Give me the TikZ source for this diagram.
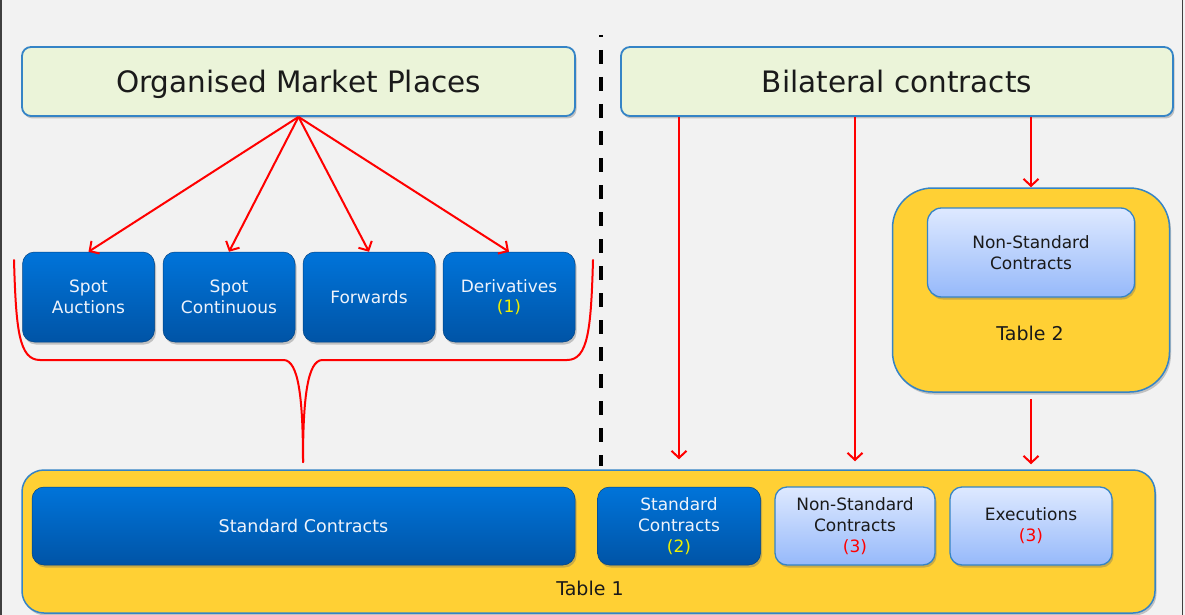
\documentclass[tikz,border=0pt]{standalone}
\usepackage{fontspec}
\setmainfont{DejaVu Sans}
\usetikzlibrary{arrows.meta,shadows,calc}
\definecolor{bgc}{HTML}{F2F2F2}
\definecolor{hdrfill}{HTML}{EBF4D9}
\definecolor{edgeblue}{HTML}{3584C6}
\definecolor{dbtop}{HTML}{0074DA}
\definecolor{dbbot}{HTML}{0054A6}
\definecolor{lbtop}{HTML}{DEE9FF}
\definecolor{lbbot}{HTML}{96B9FA}
\definecolor{tabyel}{HTML}{FFD034}
\definecolor{arrred}{HTML}{FF0000}
\definecolor{ylw}{HTML}{F0F000}
\definecolor{txtw}{HTML}{EEF3FB}
\definecolor{txtd}{HTML}{1A1A1A}
\tikzset{
  myshadow/.style={drop shadow={shadow xshift=1.5pt,shadow yshift=-2.5pt,opacity=0.35,fill=black!60}},
  hdr/.style={draw=edgeblue,line width=1.8pt,fill=hdrfill,rounded corners=9pt,myshadow,
    minimum width=553pt,minimum height=69pt,inner sep=0pt,text height=21.5pt,text depth=0pt,
    font=\fontsize{29.5}{34}\selectfont,text=txtd},
  dbox/.style={rounded corners=12pt,top color=dbtop,bottom color=dbbot,draw=dbbot!80!black,line width=0.5pt,myshadow,
    minimum width=132pt,minimum height=90pt,inner sep=0pt,align=center,text=txtw,
    font=\fontsize{17}{20.5}\selectfont},
  lbox/.style={rounded corners=12pt,top color=lbtop,bottom color=lbbot,draw=edgeblue,line width=1.3pt,myshadow,
    minimum height=78pt,inner sep=0pt,align=center,text=txtd,
    font=\fontsize{17}{21}\selectfont},
  tab/.style={fill=tabyel,draw=edgeblue,line width=1.5pt,myshadow,inner sep=0pt},
  lbl/.style={font=\fontsize{19}{22}\selectfont,text=txtd,inner sep=0pt},
  arr/.style={draw=arrred,color=arrred,line width=2pt,-{Straight Barb[length=7pt,width=15pt,line width=2pt]}},
  bracepath/.style={draw=arrred,line width=2pt,line cap=round,line join=round},
}
\begin{document}
\begin{tikzpicture}[x=1pt,y=-1pt]
\useasboundingbox (0,0) rectangle (1185,615);
\fill[bgc] (0,0) rectangle (1185,615);
\draw[black!75,line width=1.5pt] (0.75,0) -- (0.75,615);
\draw[black!75,line width=1.5pt] (1182.5,0) -- (1182.5,615);

% dashed separator
\draw[black,line width=4pt,dash pattern=on 14pt off 13pt,dash phase=12pt] (601,35) -- (601,466);

% headers
\node[hdr] (omp) at (298.5,81.5) {Organised Market Places};
\node[hdr,minimum width=552pt] (bc) at (897,81.5) {Bilateral contracts};

% organised market boxes
\node[dbox] (sa) at (88.5,297) {Spot\\Auctions};
\node[dbox] (sc) at (229,297) {Spot\\Continuous};
\node[dbox] (fw) at (369,297) {Forwards};
\node[dbox] (dv) at (509,297) {Derivatives\\\textcolor{ylw}{(1)}};

\foreach \t in {sa,sc,fw,dv} \draw[arr] (omp.south) -- (\t.north);

% brace
\coordinate (btip) at (303,462);
\draw[bracepath] (14,260) .. controls (16,330) and (19,360) .. (40,360) -- (284,360)
   .. controls (298,361) and (303,395) .. (btip);
\draw[bracepath] (593,260) .. controls (591,330) and (588,360) .. (567,360) -- (322,360)
   .. controls (308,361) and (303,395) .. (btip);

% Table 2
\node[tab,rounded corners=40pt,minimum width=277pt,minimum height=204pt] (t2) at (1031,290) {};
\node[lbox,minimum width=207pt,minimum height=89pt,rounded corners=14pt] (ns2) at (1031,252.5) {Non-Standard\\Contracts};
\node[lbl] (t2l) at (1030,333) {Table 2};

% Table 1
\node[tab,rounded corners=22pt,minimum width=1133pt,minimum height=143pt] (t1) at (588.5,541.5) {};
\node[dbox,minimum width=543pt,minimum height=78pt,font=\fontsize{17.5}{21}\selectfont] (std) at (303.5,526) {Standard Contracts};
\node[dbox,minimum width=163pt,minimum height=78pt,font=\fontsize{17}{21}\selectfont] (sc2) at (679,526) {Standard\\Contracts\\\textcolor{ylw}{(2)}};
\node[lbox,minimum width=160pt] (ns3) at (855,526) {Non-Standard\\Contracts\\\textcolor{arrred}{(3)}};
\node[lbox,minimum width=162pt] (ex) at (1031,526) {Executions\\\textcolor{arrred}{(3)}};
\node[lbl] (t1l) at (590,588) {Table 1};

% bilateral arrows
\coordinate (e1) at ($(t1.north -| sc2.north)+(0,-10)$);
\coordinate (e2) at ($(t1.north -| ns3.north)+(0,-8)$);
\coordinate (e3) at ($(t1.north -| ex.north)+(0,-5)$);
\coordinate (s1) at (bc.south -| e1);
\coordinate (s2) at (bc.south -| e2);
\coordinate (s3) at (bc.south -| t2.north);
\coordinate (s4) at ($(t2.south)+(0,6)$);
\draw[arr] (s1) -- (e1);
\draw[arr] (s2) -- (e2);
\draw[arr] (s3) -- (t2.north);
\draw[arr] (s4) -- (e3);
\end{tikzpicture}
\end{document}
